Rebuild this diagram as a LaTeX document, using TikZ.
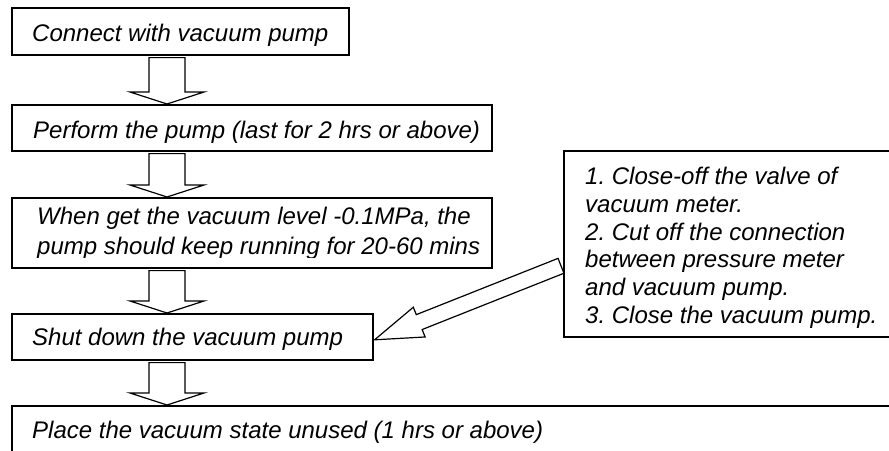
\documentclass[tikz,border=0pt]{standalone}
\usepackage{fontspec}
\setmainfont{Liberation Sans}
\usetikzlibrary{calc}
\frenchspacing
\newcommand\vblockarrow[2]{\draw[blk] let \p1=(#1 -| ax), \p2=(#2 -| ax) in
  (\x1-18,\y1-2) -- (\x1+18,\y1-2) -- (\x1+18,\y2+12) -- (\x1+37,\y2+12) --
  (\x1,\y2) -- (\x1-37,\y2+12) -- (\x1-18,\y2+12) -- cycle;}
\begin{document}
\begin{tikzpicture}[x=1pt,y=-1pt,
  box/.style={draw=black,line width=1.6pt,fill=white,rectangle,inner sep=0pt,anchor=north west},
  txt/.style={inner sep=0pt,font=\fontsize{24}{27.8}\selectfont\itshape\frenchspacing,align=left,text=black},
  blk/.style={draw=black,line width=1.2pt,fill=white,line join=miter}]
\useasboundingbox (0,0) rectangle (889,450);
\clip (0,0) rectangle (889,450);
\coordinate (ax) at (167,0);
% boxes
\node[box,minimum width=337pt,minimum height=47pt] (b1) at (11,7) {};
\node[box,minimum width=480pt,minimum height=46pt] (b2) at (11,104) {};
\node[box,minimum width=480pt,minimum height=70pt] (b3) at (11,197) {};
\node[box,minimum width=361pt,minimum height=46pt] (b4) at (11,313) {};
\node[box,minimum width=900pt,minimum height=80pt] (b5) at (11,405) {};
\node[box,minimum width=340pt,minimum height=186pt] (rb) at (563,150) {};
% texts
\node[txt,anchor=base west] (t1) at (32,41) {Connect with vacuum pump};
\node[txt,anchor=base west] (t2) at (33,138) {Perform the pump (last for 2 hrs or above)};
\begin{scope}
  \clip (11,197) rectangle (491,257.5);
  \node[txt,font=\fontsize{24}{30}\selectfont\itshape,anchor=north west] (t3) at (37,206.8) {When get the vacuum level -0.1MPa, the\\pump should keep running for 20-60 mins};
\end{scope}
\node[txt,anchor=base west] (t4) at (32,345) {Shut down the vacuum pump};
\node[txt,anchor=base west] (t5) at (32,438) {Place the vacuum state unused (1 hrs or above)};
\node[txt,anchor=north west] (tr) at (585,167) {1. Close-off the valve of\\vacuum meter.\\2. Cut off the connection\\between pressure meter\\and vacuum pump.\\3. Close the vacuum pump.};
% block arrows
\vblockarrow{b1.south}{b2.north}
\vblockarrow{b2.south}{b3.north}
\vblockarrow{b3.south}{b4.north}
\vblockarrow{b4.south}{b5.north}
% diagonal arrow
\coordinate (dt) at ($(b4.east)+(1,3)$);
\coordinate (ds) at ($(rb.west)+(-2,22)$);
\coordinate (dh) at ($(dt)!48pt!(ds)$);
\draw[blk] (dt) -- ($(dh)!16pt!90:(ds)$) -- ($(dh)!8pt!90:(ds)$) -- ($(ds)!8pt!-90:(dh)$)
  -- ($(ds)!8pt!90:(dh)$) -- ($(dh)!8pt!-90:(ds)$) -- ($(dh)!16pt!-90:(ds)$) -- cycle;
\end{tikzpicture}
\end{document}
